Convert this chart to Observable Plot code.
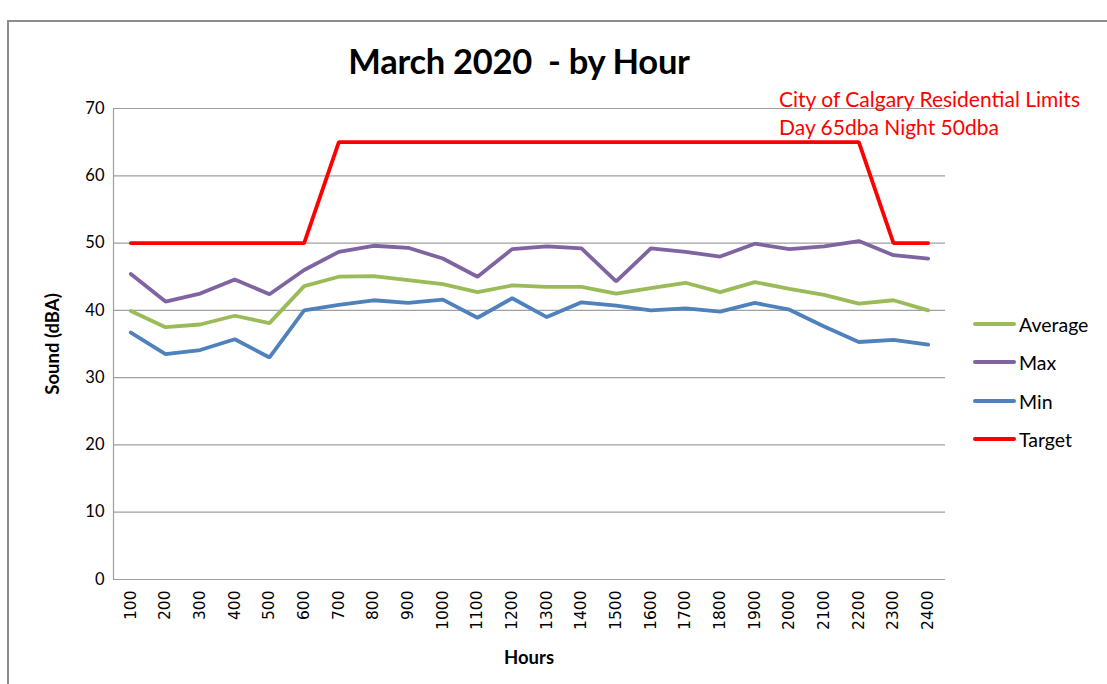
<!DOCTYPE html>
<html>
<head>
<meta charset="utf-8">
<script src="https://cdn.jsdelivr.net/npm/d3@7"></script>
<script src="https://cdn.jsdelivr.net/npm/@observablehq/plot@0.6"></script>
<style>
  html, body { margin: 0; padding: 0; background: #fff; }
  #wrap { position: relative; width: 1107px; height: 684px; overflow: hidden; font-family: Lato, "Open Sans", sans-serif; }
  #border { position: absolute; left: 7px; top: 20px; width: 1120px; height: 700px; border: 2px solid #8c8c8c; box-sizing: border-box; }
  #chart { position: absolute; left: 0; top: 0; }
  .abs { position: absolute; white-space: nowrap; }
  #title { left: 0; width: 1038px; top: 40px; text-align: center; font-size: 34.5px; font-weight: bold; color: #000; letter-spacing: -0.3px; }
  #note { left: 779px; top: 85px; font-size: 21px; color: #ff0000; line-height: 28px; }
  #ylab { left: 52px; top: 344px; font-size: 18.5px; font-weight: bold; transform: translate(-50%, -50%) rotate(-90deg); }
  #xlab { left: 529px; top: 657px; font-size: 18.5px; font-weight: bold; transform: translate(-50%, -50%); }
  .leg { position: absolute; left: 973px; height: 22px; display: flex; align-items: center; font-size: 19.5px; }
  .leg span.sw { display: inline-block; width: 43px; height: 4px; margin-right: 3px; border-radius: 2px; }
</style>
</head>
<body>
<div id="wrap">
  <div id="border"></div>
  <div id="chart"></div>
  <div id="title" class="abs">March 2020&nbsp; - by Hour</div>
  <div id="note" class="abs">City of Calgary Residential Limits<br>Day 65dba Night 50dba</div>
  <div id="ylab" class="abs">Sound (dBA)</div>
  <div id="xlab" class="abs">Hours</div>
  <div id="legend"></div>
</div>
<script>
const hours = ["100","200","300","400","500","600","700","800","900","1000","1100","1200",
               "1300","1400","1500","1600","1700","1800","1900","2000","2100","2200","2300","2400"];
const average = [39.9,37.5,37.9,39.2,38.1,43.6,45.0,45.1,44.5,43.9,42.7,43.7,
                 43.5,43.5,42.5,43.3,44.1,42.7,44.2,43.2,42.3,41.0,41.5,40.0];
const maxVals = [45.4,41.3,42.5,44.6,42.4,46.0,48.7,49.6,49.3,47.7,45.0,49.1,
                 49.5,49.2,44.3,49.2,48.7,48.0,49.9,49.1,49.5,50.3,48.2,47.7];
const minVals = [36.7,33.5,34.1,35.7,33.0,40.0,40.8,41.5,41.1,41.6,38.9,41.8,
                 39.0,41.2,40.7,40.0,40.3,39.8,41.1,40.1,37.6,35.3,35.6,34.9];
const target  = [50,50,50,50,50,50,65,65,65,65,65,65,
                 65,65,65,65,65,65,65,65,65,65,50,50];
const seriesNames = ["Average","Max","Min","Target"];
const seriesColors = ["#9bbb59","#8064a2","#4f81bd","#ff0000"];
const yTicks = [0,10,20,30,40,50,60,70];

const seriesData = [average, maxVals, minVals, target];
const rows = [];
seriesNames.forEach((name, i) => {
  hours.forEach((h, j) => rows.push({series: name, hour: h, value: seriesData[i][j]}));
});

const chart = Plot.plot({
  width: 1107,
  height: 684,
  marginLeft: 113,
  marginRight: 162,
  marginTop: 108,
  marginBottom: 105,
  style: {background: "transparent", overflow: "visible"},
  x: {type: "point", domain: hours, padding: 0.5, round: false, label: null},
  y: {domain: [0, 70], label: null},
  color: {domain: seriesNames, range: seriesColors},
  marks: [
    Plot.gridY(yTicks, {stroke: "#a0a0a0", strokeOpacity: 1, strokeWidth: 1.2}),
    Plot.frame({anchor: "left", stroke: "#a0a0a0", strokeWidth: 1.2}),
    Plot.axisY(yTicks, {tickSize: 0, tickPadding: 9, fontSize: 16.5, fontFamily: "Lato, sans-serif", fill: "#000", label: null}),
    Plot.axisX({tickRotate: -90, tickSize: 0, tickPadding: 11, fontSize: 15.5, fontFamily: "DejaVu Sans, sans-serif", fill: "#000", label: null}),
    Plot.line(rows, {x: "hour", y: "value", z: "series", stroke: "series", strokeWidth: 3.8, strokeLinejoin: "miter"})
  ]
});
document.getElementById("chart").appendChild(chart);

const legend = document.getElementById("legend");
const legendTops = [313, 351, 390, 428];
seriesNames.forEach((name, i) => {
  const d = document.createElement("div");
  d.className = "leg";
  d.style.top = legendTops[i] + "px";
  d.innerHTML = `<span class="sw" style="background:${seriesColors[i]}"></span>${name}`;
  legend.appendChild(d);
});
</script>
</body>
</html>
